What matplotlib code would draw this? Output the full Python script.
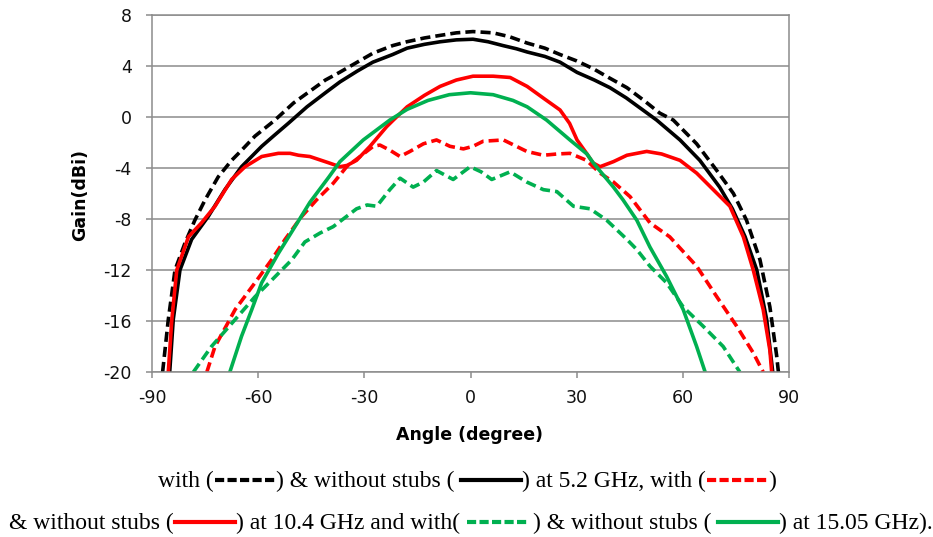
import numpy as np
import matplotlib
matplotlib.use("Agg")
from matplotlib import pyplot as plt
from matplotlib.lines import Line2D

plt.rcParams['axes.unicode_minus'] = False

# angle (deg) / gain (dBi)
bd_ang = [-87, -85.4, -83.5, -80.7, -77.9, -75, -71.3, -67.5, -65, -60.9, -55.5, -50, -46, -41, -37,
          -32, -27.6, -22, -18, -13, -8.6, -4, 0.7, 6.4, 11, 16, 21, 25.3, 30, 34.6, 39, 44.2, 49,
          53.5, 57.3, 63.9, 69.6, 74.3, 78, 81.8, 84.6, 86.5, 87.2]
bd_gain = [-20, -15.9, -12, -9.9, -8.1, -6.5, -4.7, -3.4, -2.7, -1.5, -0.3, 1.1, 1.9, 2.9, 3.5,
           4.3, 5.0, 5.6, 5.9, 6.2, 6.4, 6.6, 6.7, 6.6, 6.3, 5.8, 5.4, 4.9, 4.4, 3.8, 3.1, 2.3, 1.3,
           0.3, -0.24, -2.1, -4.2, -6.0, -8.1, -11.2, -14.9, -18.7, -20.5]

bs_ang = [-85, -84, -82.1, -78.8, -74.1, -69.4, -64.7, -59, -55.7, -51.5, -46.2, -41, -36.9, -32,
          -27.6, -22, -17.9, -13, -8.6, -4, 0.7, 5, 9.2, 13, 16, 21, 25.3, 30.1, 35, 39.4, 44, 48.7,
          52.6, 59.2, 64.8, 70.4, 74, 77.6, 80.9, 83.7, 85.4]
bs_gain = [-20, -15.9, -12, -9.6, -7.8, -5.7, -3.9, -2.3, -1.5, -0.5, 0.8, 1.9, 2.75, 3.6,
           4.3, 4.9, 5.4, 5.7, 5.9, 6.05, 6.1, 5.9, 5.6, 5.35, 5.1, 4.75, 4.3, 3.5, 2.9, 2.3, 1.5,
           0.55, -0.24, -1.8, -3.4, -5.5, -7.2, -9.4, -12, -15.9, -20]

rd_ang = [-74.5, -72.2, -66.5, -60.9, -56.2, -52.4, -47.7, -43.5, -38.8, -35, -31.2, -27.5, -25.6,
          -22.8, -19.9, -17.1, -13.3, -9.6, -5.8, -2, 0.7, 3.6, 9.3, 15.9, 20.6, 24.5, 28.1, 32.8,
          36.6, 40.4, 45.1, 50.7, 56.3, 63.9, 69.6, 75.2, 79.9, 82.7]
rd_gain = [-20, -18, -15.1, -13.0, -11.2, -9.6, -7.8, -6.5, -5.2, -3.9, -3.1, -2.3, -2.2,
           -2.6, -3.1, -2.7, -2.1, -1.8, -2.3, -2.5, -2.3, -1.9, -1.8, -2.7, -3.0, -2.9, -2.85, -3.4,
           -4.4, -5.1, -6.25, -8.3, -9.4, -11.7, -14.1, -16.4, -18.5, -20]

rs_ang = [-85.4, -84.4, -83, -79.7, -76, -72.2, -67.5, -63.7, -59, -54.3, -51, -48.6, -45.4, -40,
          -36.9, -34.9, -32.2, -28.4, -23.7, -21.8, -17.9, -13, -8.6, -4, 0.7, 6.4, 11.2, 16, 21,
          25.3, 28, 30.1, 32.8, 34.6, 36.6, 40.4, 44.2, 47, 49.8, 54, 59.2, 63.9, 68.6, 73.3, 77.1,
          79.9, 82.7, 84.6, 85.1]
rs_gain = [-20, -15.9, -12, -9.4, -8.3, -7.0, -4.9, -3.9, -3.1, -2.85, -2.85, -3.0, -3.1, -3.6,
           -3.9, -3.8, -3.4, -2.3, -0.76, -0.24, 0.8, 1.7, 2.4, 2.9, 3.2, 3.2, 3.1, 2.4, 1.4,
           0.55, -0.5, -1.8, -2.85, -3.6, -3.9, -3.5, -3.0, -2.85, -2.7, -2.9, -3.4, -4.4, -5.7, -7.0, -9.4,
           -12, -15.1, -18.3, -20]

gd_ang = [-78.3, -73.2, -67.5, -60.9, -56.2, -50.5, -46.8, -42.5, -38.8, -32.2, -29.2, -26.5,
          -22.8, -19.9, -16.2, -13.3, -9.6, -4.9, -0.1, 3, 6, 11.2, 15.9, 20.6, 24.4, 29.1, 33.8,
          38.5, 44.2, 47, 50.7, 55.4, 60.1, 65.7, 71.4, 76.1]
gd_gain = [-20, -18, -16.2, -14.1, -12.8, -11.2, -9.8, -9.1, -8.6, -7.2, -6.9, -7.0,
           -5.7, -4.8, -5.5, -5.1, -4.2, -4.9, -3.9, -4.3, -4.9, -4.3, -5.1, -5.7, -5.85, -7.0, -7.2,
           -8.1, -9.6, -10.4, -11.7, -13.0, -14.9, -16.4, -18, -20]

gs_ang = [-68, -64.7, -61.8, -59, -54.3, -49.6, -45.4, -40, -36.9, -30.3, -22.8, -17.9, -12, -6, 0,
          6.4, 12, 16, 21.5, 28.1, 32.9, 34.7, 40.4, 43.1, 47, 50.7, 55.4, 60.1, 63.9, 66.3]
gs_gain = [-20, -17.2, -15.1, -13.0, -10.7, -8.6, -6.7, -4.7, -3.5, -1.8, -0.24, 0.6, 1.3, 1.75, 1.9,
           1.75, 1.3, 0.8, -0.24, -1.8, -2.9, -3.6, -5.5, -6.5, -8.1, -10.2, -12.5, -15.1, -18, -20]

xticks = [-90, -60, -30, 0, 30, 60, 90]
yticks = [-20, -16, -12, -8, -4, 0, 4, 8]

RED = '#FF0000'
GREEN = '#00B050'
DASH = (2.8, 1.4)

W, H = 933, 537
fig = plt.figure(figsize=(W / 100, H / 100), dpi=100)
ax = fig.add_axes([152 / W, 1 - 372 / H, (789 - 152) / W, (372 - 15) / H])

lw = 2.6
ax.plot(bd_ang, bd_gain, color='black', lw=lw, dashes=DASH)
ax.plot(bs_ang, bs_gain, color='black', lw=lw)
ax.plot(rd_ang, rd_gain, color=RED, lw=lw, dashes=DASH)
ax.plot(rs_ang, rs_gain, color=RED, lw=lw)
ax.plot(gd_ang, gd_gain, color=GREEN, lw=lw, dashes=DASH)
ax.plot(gs_ang, gs_gain, color=GREEN, lw=lw)

ax.set_xlim(-90, 90)
ax.set_ylim(-20, 8)
ax.set_xticks(xticks)
ax.set_yticks(yticks)
ax.yaxis.grid(True, color='#8c8c8c', lw=1.1)
ax.set_axisbelow(True)
for s in ax.spines.values():
    s.set_color('#8c8c8c')
    s.set_linewidth(1.1)
ax.tick_params(direction='out', length=4.5, width=1.1, color='#8c8c8c',
               labelsize=12.5, labelcolor='#111111')
ax.tick_params(axis='y', pad=10)
ax.tick_params(axis='x', pad=8)

fig.text(80 / W, 1 - 195 / H, 'Gain(dBi)', rotation=90, ha='center', va='center',
         fontweight='bold', fontsize=12.5)
fig.text(470 / W, 1 - 435 / H, 'Angle (degree)', ha='center', va='center',
         fontweight='bold', fontsize=12.5)

# caption with inline line samples
renderer = fig.canvas.get_renderer()
CAP_FS = 17


def text_width(s):
    t = fig.text(0, 0, s, fontsize=CAP_FS, family='Liberation Serif')
    w = t.get_window_extent(renderer).width
    t.remove()
    return w


def caption_line(parts, center, baseline):
    total = 0
    for p in parts:
        if isinstance(p, str):
            total += text_width(p)
        elif isinstance(p, (int, float)):
            total += p
        else:
            total += 62
    x = center - total / 2
    for p in parts:
        if isinstance(p, str):
            fig.text(x / W, 1 - baseline / H, p, fontsize=CAP_FS, family='Liberation Serif',
                     va='baseline', ha='left')
            x += text_width(p)
        elif isinstance(p, (int, float)):
            x += p
        else:
            color, dashed = p
            yy = 1 - (baseline - 7) / H
            kw = dict(dashes=(2.2, 0.8)) if dashed else {}
            fig.add_artist(Line2D([(x + 1) / W, (x + 61) / W], [yy, yy], color=color,
                                  lw=3.0, transform=fig.transFigure, **kw))
            x += 62


caption_line(['with (', ('black', True), ') & without stubs (', 6, ('black', False),
              ') at 5.2 GHz, with (', (RED, True), ')'], 467, 487)
caption_line(['& without stubs (', (RED, False), ') at 10.4 GHz and with(', 6, (GREEN, True), 5,
              ') & without stubs (', 6, (GREEN, False), ') at 15.05 GHz).'], 471, 529)

fig.savefig('out.png', dpi=100)
